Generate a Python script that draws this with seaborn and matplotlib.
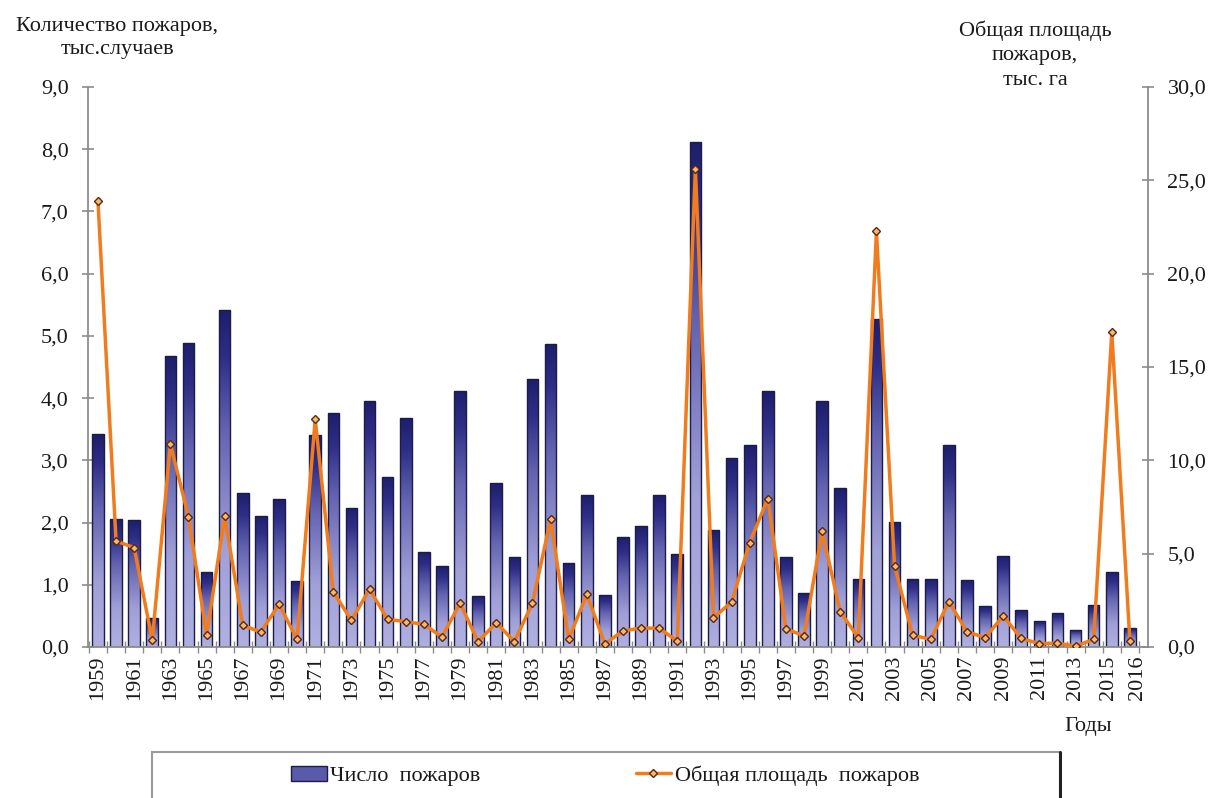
import numpy as np
import pandas as pd
import matplotlib
matplotlib.use("Agg")
import matplotlib.pyplot as plt
import matplotlib.transforms as mtransforms
import seaborn as sns
from matplotlib.colors import LinearSegmentedColormap
from matplotlib.patches import Patch, Rectangle
from matplotlib.lines import Line2D

# Forest fires by year
years = list(range(1959, 2017))
fires = [3.43, 2.05, 2.04, 0.46, 4.68, 4.89, 1.20, 5.41, 2.47, 2.11,   # 1959-1968
         2.38, 1.06, 3.40, 3.76, 2.24, 3.96, 2.74, 3.68, 1.53, 1.30,   # 1969-1978
         4.12, 0.82, 2.63, 1.44, 4.31, 4.87, 1.35, 2.44, 0.84, 1.76,   # 1979-1988
         1.95, 2.45, 1.50, 8.12, 1.88, 3.04, 3.24, 4.12, 1.45, 0.86,   # 1989-1998
         3.95, 2.55, 1.10, 5.27, 2.01, 1.10, 1.10, 3.24, 1.07, 0.66,   # 1999-2008
         1.47, 0.59, 0.42, 0.54, 0.28, 0.67, 1.21, 0.30]               # 2009-2016
area = [23.9, 5.68, 5.32, 0.36, 10.87, 6.98, 0.63, 7.0, 1.16, 0.80,
        2.29, 0.41, 12.2, 2.95, 1.43, 3.09, 1.48, 1.36, 1.21, 0.54,
        2.34, 0.29, 1.30, 0.29, 2.34, 6.84, 0.41, 2.82, 0.17, 0.86,
        1.02, 1.00, 0.32, 25.63, 1.57, 2.41, 5.59, 7.95, 0.98, 0.59,
        6.21, 1.89, 0.50, 22.27, 4.34, 0.63, 0.41, 2.43, 0.82, 0.50,
        1.66, 0.46, 0.18, 0.20, 0.05, 0.41, 16.88, 0.32]

left_ticks = np.arange(0, 9.01, 1.0)
right_ticks = np.arange(0, 30.01, 5.0)

label_fires = "Число  пожаров"
label_area = "Общая площадь  пожаров"
title_left = "Количество пожаров,\nтыс.случаев"
title_right = "Общая площадь\nпожаров,\nтыс. га"
xlabel = "Годы"

sns.set_theme(style="white")
plt.rcParams["font.family"] = ["Liberation Serif", "DejaVu Serif"]

TXT = "#1a1a1a"
AXC = "#8c8c8c"
LINE_C = "#f07c1e"
FS = 16

W, H = 1213, 798
fig = plt.figure(figsize=(W / 100, H / 100), dpi=100)
ax = fig.add_axes([88 / W, 1 - 647 / H, (1148 - 88) / W, (647 - 87) / H])

df = pd.DataFrame({"year": [str(y) for y in years], "fires": fires, "area": area})
sns.barplot(data=df, x="year", y="fires", ax=ax, color="#3a3a8c", width=0.64,
            saturation=1, edgecolor="#1c1c44", linewidth=1.0, zorder=2)

# vertical gradient inside every bar
cmap = LinearSegmentedColormap.from_list(
    "bars", [(0.0, "#b0b0e0"), (0.3, "#a0a0d8"), (0.65, "#6262b0"),
             (0.86, "#2e2e88"), (1.0, "#1e1e6c")])
grad = np.linspace(0, 1, 256).reshape(-1, 1)
for p in list(ax.patches):
    x0, y0, w, h = p.get_x(), p.get_y(), p.get_width(), p.get_height()
    im = ax.imshow(grad, extent=[x0, x0 + w, y0, y0 + h], origin="lower",
                   cmap=cmap, aspect="auto", zorder=1.9, interpolation="bilinear")
    im.set_clip_path(p)
    p.set_facecolor("none")

pos = np.arange(len(years))
ax2 = ax.twinx()
sns.lineplot(x=pos, y=area, ax=ax2, color=LINE_C, linewidth=2.5, marker="D",
             markersize=4, markerfacecolor="#f8b868", markeredgecolor="#5a2810",
             markeredgewidth=1.0, zorder=3)

ax.set_xlim(-0.55, len(years))
ax.set_ylim(0, 9)
ax2.set_ylim(0, 30)

# y axes
fmt = lambda v: f"{v:.1f}".replace(".", ",")
ax.set_yticks(left_ticks)
ax.set_yticklabels([fmt(v) for v in left_ticks], fontsize=FS, color=TXT)
ax2.set_yticks(right_ticks)
ax2.set_yticklabels([fmt(v) for v in right_ticks], fontsize=FS, color=TXT)
ax.tick_params(axis="y", direction="inout", length=8, width=1.2, color=AXC, pad=10, left=True)
ax2.tick_params(axis="y", direction="inout", length=8, width=1.2, color=AXC, pad=10, right=True)

# x axis: every second year labelled plus the last one
lab_idx = list(range(0, len(years), 2))
if lab_idx[-1] != len(years) - 1:
    lab_idx.append(len(years) - 1)
ax.set_xticks(lab_idx)
ax.set_xticklabels([str(years[i]) for i in lab_idx], rotation=90, fontsize=FS, color=TXT)
ax.set_xticks(np.arange(-0.5, len(years), 1.0), minor=True)
ax.tick_params(axis="x", which="major", length=0, pad=6, bottom=True)
ax.tick_params(axis="x", which="minor", direction="inout", length=8, width=1.0, color=AXC, bottom=True)

# the last two year labels sit side by side: nudge them apart
xlabels = ax.get_xticklabels()
for lbl, dx in ((xlabels[-2], -3), (xlabels[-1], 8)):
    lbl.set_transform(lbl.get_transform() +
                      mtransforms.ScaledTranslation(dx / 100, 0, fig.dpi_scale_trans))

ax.set_xlabel("")
ax.set_ylabel("")
ax2.set_ylabel("")
ax.grid(False)
ax2.grid(False)

for a in (ax, ax2):
    a.spines["top"].set_visible(False)
ax.spines["right"].set_visible(False)
ax2.spines["left"].set_visible(False)
ax2.spines["bottom"].set_visible(False)
for s in (ax.spines["left"], ax.spines["bottom"], ax2.spines["right"]):
    s.set_color(AXC)
    s.set_linewidth(1.3)

# axis titles
fig.text(117 / W, 1 - 38 / H, title_left, ha="center", va="center", fontsize=FS,
         color=TXT, linespacing=1.3)
fig.text(1035 / W, 1 - 55 / H, title_right, ha="center", va="center", fontsize=FS,
         color=TXT, linespacing=1.4)
fig.text(1088 / W, 1 - 727 / H, xlabel, ha="center", va="center", fontsize=FS, color=TXT)

# legend box
box_top = 1 - 752 / H
fig.patches.append(Rectangle((152 / W, -0.05), (1060 - 152) / W, box_top + 0.05,
                             transform=fig.transFigure, fill=False,
                             edgecolor="#9a9a9a", linewidth=1.5))
fig.lines.append(Line2D([1060 / W, 1060 / W], [0, box_top], transform=fig.transFigure,
                        color="#222222", linewidth=2.2))
handles = [Patch(facecolor="#5a5aaa", edgecolor="#1c1c44"),
           Line2D([], [], color=LINE_C, linewidth=2.5, marker="D", markersize=4,
                  markerfacecolor="#f8b868", markeredgecolor="#5a2810")]
fig.legend(handles, [label_fires, label_area], loc="center",
           bbox_to_anchor=(605 / W, 1 - 776 / H), ncol=2, frameon=False,
           columnspacing=7.0, handlelength=1.6, handletextpad=0.15, fontsize=FS,
           labelcolor=TXT)

fig.savefig("out.png", dpi=100)
